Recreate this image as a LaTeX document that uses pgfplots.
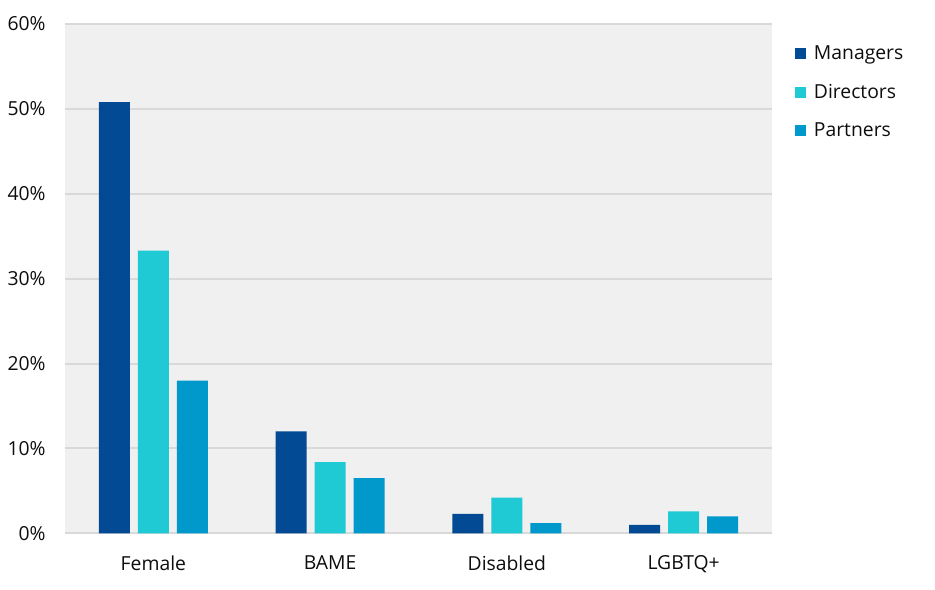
\documentclass[border=0pt]{standalone}
\usepackage{pgfplots}
\pgfplotsset{compat=1.18}
\usepackage{fontspec}
\setmainfont{Open Sans}

\definecolor{mgr}{HTML}{034A94}
\definecolor{dir}{HTML}{1FCAD4}
\definecolor{prt}{HTML}{0199CC}
\definecolor{bg}{HTML}{F0F0F0}
\definecolor{grd}{HTML}{D9D9D9}

\begin{document}
\begin{tikzpicture}
\begin{axis}[
  scale only axis,
  width=530.25pt, height=382pt,
  ybar=6pt, bar width=23.25pt,
  xmin=-0.5, xmax=3.5,
  ymin=0, ymax=60,
  xtick=data,
  xticklabels={Female,BAME,Disabled,LGBTQ+},
  ytick={0,10,...,60},
  yticklabel={\pgfmathprintnumber{\tick}\%},
  /pgf/number format/assume math mode=true,
  ymajorgrids,
  major grid style={grd, line width=1.5pt},
  axis line style={draw=none},
  tick style={draw=none},
  axis background/.style={fill=bg},
  font=\fontsize{14.5pt}{17pt}\selectfont,
  ticklabel style={font=\fontsize{14.5pt}{17pt}\selectfont, text=black!95},
  xticklabel style={yshift=-9pt},
  yticklabel style={xshift=-11pt},
  legend style={at={(1,1)}, anchor=north west, xshift=14pt, yshift=-12pt,
    draw=none, fill=none, row sep=13pt,
    font=\fontsize{14.5pt}{17pt}\selectfont, text=black!95,
    nodes={inner xsep=6pt}},
  legend cell align=left,
  legend image code/.code={\fill[#1] (0pt,-4.1pt) rectangle (8.25pt,4.1pt);},
]
\addplot[fill=mgr, draw=none] coordinates {(0,50.8) (1,12.0) (2,2.3) (3,1.0)};
\addplot[fill=dir, draw=none] coordinates {(0,33.3) (1,8.4) (2,4.2) (3,2.6)};
\addplot[fill=prt, draw=none] coordinates {(0,18.0) (1,6.5) (2,1.2) (3,2.0)};
\legend{Managers,Directors,Partners}
\end{axis}
\pgfresetboundingbox
\path[use as bounding box] ([xshift=-48.75pt,yshift=-42.4pt]current axis.south west) rectangle ([xshift=122.25pt,yshift=18pt]current axis.north east);
\end{tikzpicture}
\end{document}
